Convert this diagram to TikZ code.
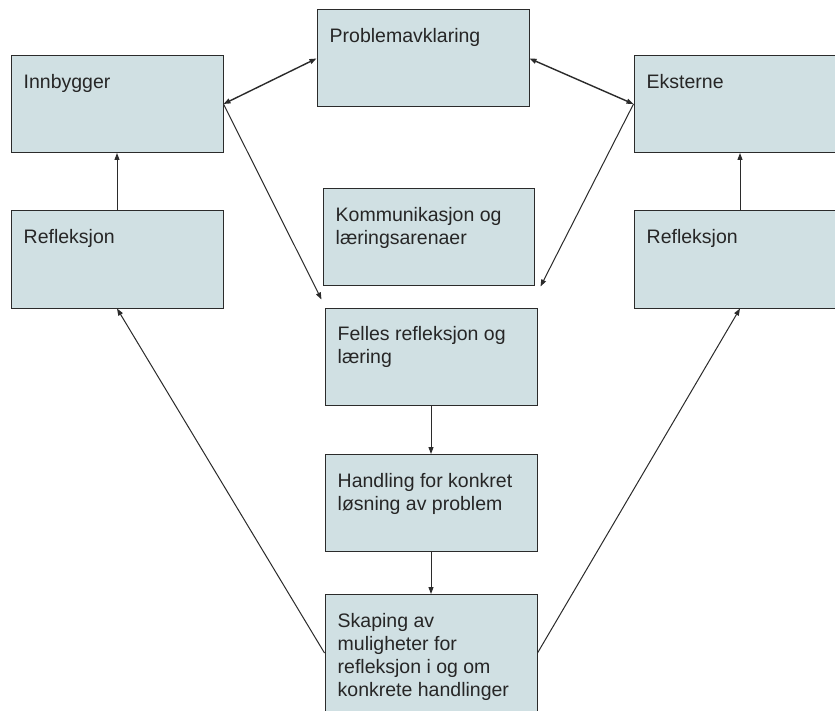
\documentclass[tikz,border=0pt]{standalone}
\usepackage{fontspec}
\setmainfont{Liberation Sans}
\usepackage{tikz}
\usetikzlibrary{calc,arrows.meta}
\definecolor{boksfarge}{HTML}{D0E0E3}
\definecolor{strek}{HTML}{2B2B2B}
\tikzset{
	boks/.style={draw=strek, fill=boksfarge, line width=1pt, minimum width=212pt, minimum height=97pt, inner sep=0pt},
	tekst/.style={anchor=north west, align=left, inner xsep=13pt, inner ysep=19pt, font=\fontsize{19.5}{23}\selectfont, text=black!85},
	pil/.style={draw=strek, line width=1pt, -{Triangle[length=7pt,width=5pt]}},
	dobbelpil/.style={draw=strek, line width=1.4pt, {Triangle[length=7pt,width=5pt]}-{Triangle[length=7pt,width=5pt]}}
}

\begin{document}
\begin{tikzpicture}[x=1pt, y=-1pt]
				%%%%% START %%%%%
				\useasboundingbox[fill=white] (0, 0) rectangle (835, 711);
				
				\node[boks, label={[tekst]north west:Innbygger}] (innbygger) at (117, 104) {};
				\node[boks, label={[tekst]north west:Refleksjon}] (reflv) at (117, 259.5) {};
				\node[boks, label={[tekst]north west:Problemavklaring}] (problem) at (423, 58.5) {};
				\node[boks, label={[tekst]north west:Eksterne}] (eksterne) at (740, 104) {};
				\node[boks, label={[tekst]north west:Refleksjon}] (reflh) at (740, 259.5) {};
				
				\node[boks, minimum width=211pt, label={[tekst]north west:Kommunikasjon og\\læringsarenaer}] (komm) at (428.5, 237.5) {};
				\node[boks, label={[tekst]north west:Felles refleksjon og\\læring}] (felles) at (431, 356.5) {};
				\node[boks, label={[tekst]north west:Handling for konkret\\løsning av problem}] (handling) at (431, 503) {};
				\node[boks, minimum height=117pt, label={[tekst]north west:Skaping av\\muligheter for\\refleksjon i og om\\konkrete handlinger}] (skaping) at (431, 653) {};
				
				\coordinate (fellesv) at ([shift={(-3pt,8pt)}]felles.north west);
				\coordinate (fellesh) at ([shift={(6pt,0pt)}]komm.south east);
				
				\draw[dobbelpil] (innbygger.east) -- (problem.west);
				\draw[dobbelpil] (problem.east) -- (eksterne.west);
				\draw[pil] (innbygger.east) -- (fellesv);
				\draw[pil] (eksterne.west) -- (fellesh);
				\draw[pil] (reflv) -- (innbygger);
				\draw[pil] (reflh) -- (eksterne);
				\draw[pil] (felles) -- (handling);
				\draw[pil] (handling) -- (skaping);
				\draw[pil] (skaping.west) -- (reflv.south);
				\draw[pil] (skaping.east) -- (reflh.south);
				%%%%% END %%%%%
\end{tikzpicture}
\end{document}
